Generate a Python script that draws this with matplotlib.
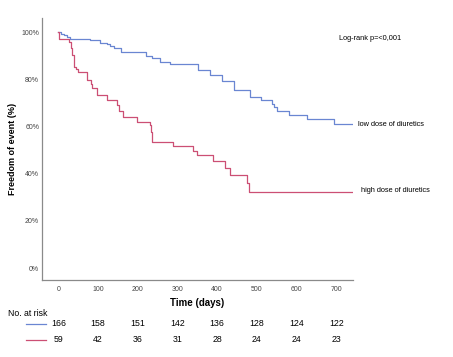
import matplotlib
matplotlib.use("Agg")
import matplotlib.pyplot as plt
from matplotlib.transforms import blended_transform_factory
from matplotlib.lines import Line2D

plt.rcParams['font.family'] = ['Liberation Sans', 'DejaVu Sans']

# Kaplan-Meier step data (days, % free of event)
low_t = [0, 8, 15, 22, 30, 80, 105, 122, 130, 140, 157, 222, 235, 256, 281, 352, 382, 412,
         443, 482, 510, 537, 542, 551, 582, 626, 695, 741]
low_s = [100, 99.4, 98.6, 97.9, 97.1, 96.5, 95.6, 94.9, 94.2, 93.1, 91.6, 89.9, 88.9, 87.3,
         86.3, 84.1, 81.8, 79.4, 75.6, 72.6, 71.3, 69.6, 68.2, 66.6, 65.0, 63.2, 61.1, 61.1]

high_t = [0, 1, 27, 32, 35, 40, 45, 50, 73, 82, 84, 97, 123, 149, 154, 162, 197, 230, 233,
          237, 288, 338, 350, 389, 420, 432, 474, 479, 743]
high_s = [100, 96.9, 95.9, 93.5, 90.3, 85.3, 84.4, 83.2, 79.7, 78.0, 76.2, 73.4, 71.2, 69.1,
          66.6, 64.2, 62.1, 60.7, 57.8, 53.3, 51.8, 49.7, 48.0, 45.5, 42.6, 39.5, 36.0, 32.2, 32.2]

x_ticks = [0, 100, 200, 300, 400, 500, 600, 700]
y_ticks = [0, 20, 40, 60, 80, 100]
risk_low = [166, 158, 151, 142, 136, 128, 124, 122]
risk_high = [59, 42, 36, 31, 28, 24, 24, 23]

label_low = "low dose of diuretics"
label_high = "high dose of diuretics"
pval_text = "Log-rank p=<0,001"

blue = '#6a86d2'
red = '#cc4f74'

W, H = 453, 357
fig = plt.figure(figsize=(W / 100, H / 100), dpi=100)
ax = fig.add_axes([42 / W, 1 - 280 / H, (353 - 42) / W, (280 - 18) / H])

ax.step(low_t, low_s, where='post', color=blue, lw=0.9)
ax.step(high_t, high_s, where='post', color=red, lw=0.9)

ax.set_xlim(-41, 742)
ax.set_ylim(-5, 106)
ax.set_xticks(x_ticks)
ax.set_yticks(y_ticks)
ax.set_yticklabels([f"{v}%" for v in y_ticks])
ax.tick_params(length=0, labelsize=5, colors='#444444')
ax.tick_params(axis='x', pad=4)
ax.tick_params(axis='y', pad=2)
for s in ['top', 'right']:
    ax.spines[s].set_visible(False)
for s in ['left', 'bottom']:
    ax.spines[s].set_color('#8a8a8a')
    ax.spines[s].set_linewidth(0.9)

ax.set_xlabel("Time (days)", fontsize=7, fontweight='bold', labelpad=4)
ax.set_ylabel("Freedom of event (%)", fontsize=6.5, fontweight='bold', labelpad=3)

fig.text(339 / W, 1 - 38 / H, pval_text, fontsize=5.3, va='center', ha='left')
fig.text(358 / W, 1 - 124 / H, label_low, fontsize=5.3, va='center', ha='left')
fig.text(361 / W, 1 - 190 / H, label_high, fontsize=5.3, va='center', ha='left')

# risk table
fig.text(8 / W, 1 - 313 / H, "No. at risk", fontsize=6.3, va='center', ha='left')
trans = blended_transform_factory(ax.transData, fig.transFigure)
for t, n in zip(x_ticks, risk_low):
    fig.text(t, 1 - 324 / H, str(n), transform=trans, fontsize=6.3, ha='center', va='center')
for t, n in zip(x_ticks, risk_high):
    fig.text(t, 1 - 340 / H, str(n), transform=trans, fontsize=6.3, ha='center', va='center')
fig.add_artist(Line2D([26 / W, 46 / W], [1 - 324 / H] * 2, color=blue, lw=0.9,
                      transform=fig.transFigure))
fig.add_artist(Line2D([26 / W, 46 / W], [1 - 340 / H] * 2, color=red, lw=0.9,
                      transform=fig.transFigure))

fig.savefig("out.png", dpi=100)
